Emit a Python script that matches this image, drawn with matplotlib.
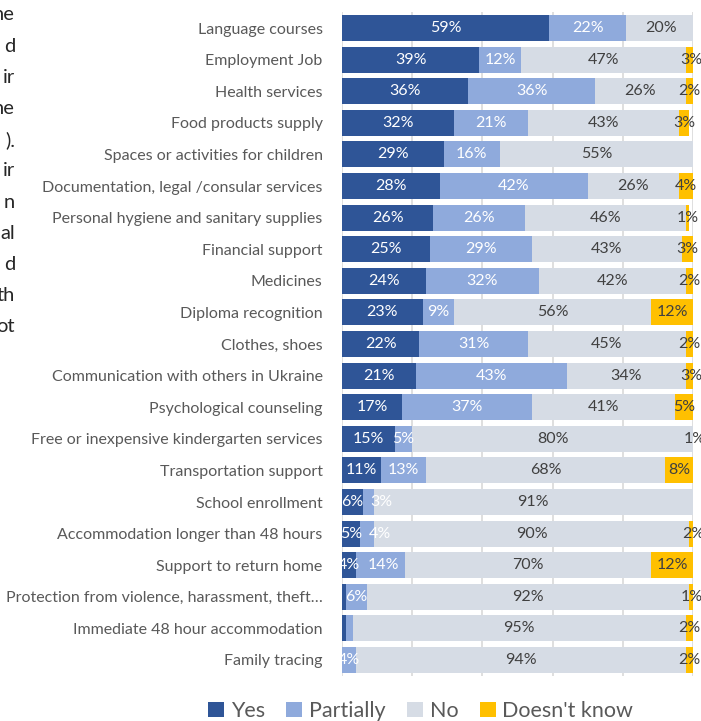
import numpy as np
import matplotlib.pyplot as plt

# categories, top to bottom
cats = ['Language courses', 'Employment Job', 'Health services', 'Food products supply',
        'Spaces or activities for children', 'Documentation, legal /consular services',
        'Personal hygiene and sanitary supplies', 'Financial support', 'Medicines',
        'Diploma recognition', 'Clothes, shoes', 'Communication with others in Ukraine',
        'Psychological counseling', 'Free or inexpensive kindergarten services',
        'Transportation support', 'School enrollment', 'Accommodation longer than 48 hours',
        'Support to return home', 'Protection from violence, harassment, theft\u2026',
        'Immediate 48 hour accommodation', 'Family tracing']

yes = [59, 39, 36, 32, 29, 28, 26, 25, 24, 23, 22, 21, 17, 15, 11, 6, 5, 4, 1, 1, 0]
partially = [22, 12, 36, 21, 16, 42, 26, 29, 32, 9, 31, 43, 37, 5, 13, 3, 4, 14, 6, 2, 4]
no = [20, 47, 26, 43, 55, 26, 46, 43, 42, 56, 45, 34, 41, 80, 68, 91, 90, 70, 92, 95, 94]
dk = [0, 3, 2, 3, 0, 4, 1, 3, 2, 12, 2, 3, 5, 1, 8, 0, 2, 12, 1, 2, 2]

series = ['Yes', 'Partially', 'No', "Doesn't know"]
colors = ['#2F5597', '#8FAADC', '#D6DCE5', '#FFC000']
txt_colors = ['white', 'white', '#404040', '#404040']

# cut-off paragraph text at left edge of the screenshot
side_text = ['he', 'd', 'ir', 'he', ').', 'ir', 'n', 'al', 'd', 'th', 'ot']

plt.rcParams['font.family'] = ['Lato', 'DejaVu Sans']

fig = plt.figure(figsize=(7.01, 7.21), dpi=100)
ax = fig.add_axes([0.488, 0.0627, 0.5006, 0.9203])

y = np.arange(len(cats))
left = np.zeros(len(cats))
prev_right = np.full(len(cats), -100.0)
for vals, name, col, tc in zip([yes, partially, no, dk], series, colors, txt_colors):
    vals = np.array(vals, dtype=float)
    ax.barh(y, vals, left=left, height=0.82, color=col, label=name, zorder=2)
    for yi, (l, v) in enumerate(zip(left, vals)):
        if v == 0:
            continue
        if name in ('Yes', 'Partially') and v < 3:
            continue
        lab = f'{int(v)}%'
        w = 2.9 * len(lab)  # rough label width in % units
        xc = l + v / 2
        if name in ('Yes', 'Partially'):
            xc = max(xc, prev_right[yi] + 2.5 + w / 2)
            prev_right[yi] = xc + w / 2
        ax.text(xc, yi, lab, ha='center', va='center',
                color=tc, fontsize=11.5, zorder=3, clip_on=False)
    left += vals

ax.set_xlim(0, 100)
ax.set_ylim(len(cats) - 0.5, -0.5)
ax.set_xticks([0, 20, 40, 60, 80, 100])
ax.set_xticklabels([])
ax.grid(axis='x', color='#D9D9D9', linewidth=1.2, zorder=0)
ax.tick_params(axis='x', length=0)
ax.tick_params(axis='y', length=0, pad=14, labelsize=11.5, labelcolor='#595959')
ax.set_yticks(y)
ax.set_yticklabels(cats)
for s in ax.spines.values():
    s.set_visible(False)

leg = fig.legend(loc='lower center', bbox_to_anchor=(0.6, -0.027), ncol=4, frameon=False,
                 fontsize=15.5, handlelength=0.75, handleheight=0.75, handletextpad=0.3,
                 columnspacing=1.0, labelcolor='#595959')

for i, t in enumerate(side_text):
    fig.text(15 / 701, 1 - (15 + i * 31.2) / 721, t, ha='right', va='center',
             fontsize=14.5, color='#262626')

fig.savefig('out.png', dpi=100)
